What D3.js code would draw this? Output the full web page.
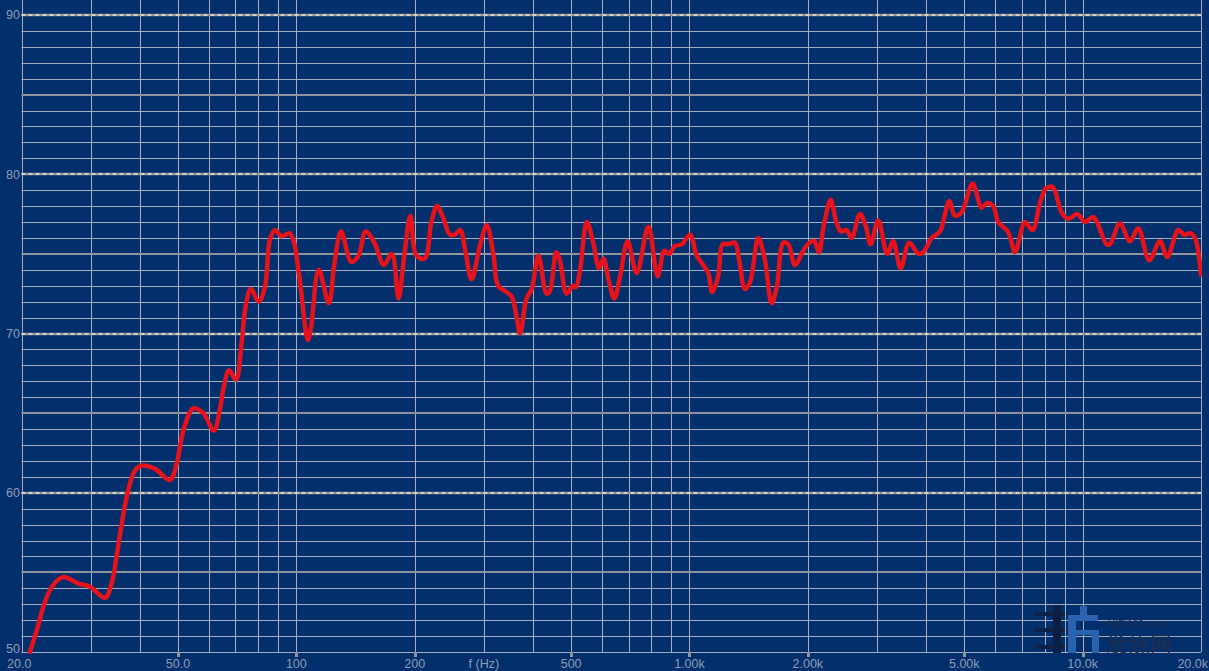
<!DOCTYPE html>
<html><head><meta charset="utf-8">
<script src="https://cdn.jsdelivr.net/npm/d3@7/dist/d3.min.js"></script>
<style>
html,body{margin:0;padding:0;background:#03306c;overflow:hidden;}
svg{display:block;}
text{font-family:"Liberation Sans",Arial,sans-serif;}
</style></head>
<body>
<svg id="chart" width="1209" height="671"></svg>
<script>
// Frequency response data
const freqHz = [21.0,21.9,22.7,23.9,25.5,27.9,29.9,32.6,33.9,34.9,
36.0,37.4,38.9,40.4,43.7,47.7,49.6,51.6,54.7,58.0,
61.7,63.9,65.2,67.5,70.2,72.6,74.1,76.6,80.2,83.2,
85.7,88.3,91.8,96.0,98.2,102,107,109,114,121,
125,130,138,144,150,158,167,175,182,188,
195,202,212,221,228,236,246,253,261,269,
279,293,305,317,326,343,353,363,371,385,
397,413,433,442,458,468,487,505,514,527,
548,569,589,604,625,644,666,696,734,786,
830,863,887,919,955,1003,1043,1084,1116,1143,
1183,1214,1255,1305,1338,1384,1425,1496,1556,1618,
1667,1732,1784,1854,1947,2017,2077,2135,2189,2286,
2358,2428,2510,2585,2714,2811,2889,3020,3184,3298,
3444,3622,3818,3931,4130,4335,4446,4578,4733,4922,
5250,5535,5720,5924,6100,6456,6727,6926,7132,7461,
7787,8064,8388,8843,9192,9690,10135,10640,11510,11730,
12440,13190,13850,14770,15730,16410,17510,18130,18750,19300,
20000];
const splDb = [50.0,51.4,52.8,54.1,54.7,54.3,54.1,53.4,54.3,56.0,
58.1,60.2,61.4,61.7,61.5,60.8,61.8,63.9,65.3,65.0,
63.9,65.2,66.5,67.7,67.1,69.4,71.5,72.8,72.0,72.9,
75.9,76.5,76.1,76.3,75.9,73.4,69.6,70.4,74.0,71.9,
74.4,76.4,74.5,74.9,76.4,75.7,74.3,75.0,72.2,74.8,
77.4,74.9,74.7,77.1,78.0,77.3,76.2,76.2,76.5,75.2,
73.4,75.5,76.8,75.0,73.0,72.6,72.3,71.1,70.0,72.2,
72.8,74.9,72.5,72.7,75.1,74.6,72.5,73.0,72.9,74.0,
77.0,75.7,74.1,74.7,73.2,72.2,73.6,75.8,73.8,76.7,
73.6,75.2,75.0,75.5,75.6,76.2,74.9,74.3,73.8,72.6,
73.6,75.6,75.6,75.7,74.6,72.8,73.2,76.0,74.6,71.9,
72.9,75.7,75.6,74.3,75.2,75.7,75.8,75.1,76.6,78.4,
77.1,76.4,76.5,76.0,77.5,76.7,75.6,77.1,75.0,75.8,
74.1,75.7,75.0,75.1,76.0,76.4,77.3,78.3,77.4,77.6,
79.4,77.9,78.2,78.0,77.0,76.4,75.1,76.1,77.0,76.5,
78.2,79.1,79.2,77.6,77.2,77.5,77.0,77.3,75.6,75.6,
76.9,75.8,76.6,74.6,75.8,74.8,76.5,76.2,76.3,76.0,
73.7];

const xTickValues = [20, 50, 100, 200, 500, 1000, 2000, 5000, 10000, 20000];
const xTickLabels = ["20.0", "50.0", "100", "200", "500", "1.00k", "2.00k", "5.00k", "10.0k", "20.0k"];
const yTickValues = [50, 60, 70, 80, 90];
const yTickLabels = ["50", "60", "70", "80", "90"];
const xAxisTitle = "f (Hz)";
const xTitleAt = 300;

const svg = d3.select("#chart");
const W = 1209, H = 671;
const mLeft = 21.5, mRight = 1201, mTop = 15, mBottom = 652;

const x = d3.scaleLog().domain([20, 20000]).range([mLeft, mRight]);
const y = d3.scaleLinear().domain([50, 90]).range([mBottom, mTop]);

svg.append("rect").attr("width", W).attr("height", H).attr("fill", "#03306c");

// vertical grid (1..9 per decade)
const vLines = [];
for (let d = 10; d <= 10000; d *= 10) {
  for (let m = 1; m <= 9; m++) {
    const f = d * m;
    if (f >= 20 && f <= 20000) vLines.push(f);
  }
}
vLines.push(20000);
const grid = svg.append("g");
grid.selectAll("line.v").data(vLines).join("line")
  .attr("x1", d => Math.round(x(d)) + 0.5).attr("x2", d => Math.round(x(d)) + 0.5)
  .attr("y1", 0).attr("y2", mBottom)
  .attr("stroke", "#a3adbd").attr("stroke-width", 1);

// horizontal grid every 1 dB
const hLines = d3.range(50, 91, 1);
grid.selectAll("line.h").data(hLines.filter(v => v % 5 !== 0)).join("line")
  .attr("x1", mLeft).attr("x2", mRight)
  .attr("y1", d => Math.round(y(d)) + 0.5).attr("y2", d => Math.round(y(d)) + 0.5)
  .attr("stroke", "#a3adbd").attr("stroke-width", 1);
// 5 dB lines thicker
grid.selectAll("line.h5").data(hLines.filter(v => v % 5 === 0 && v % 10 !== 0)).join("line")
  .attr("x1", mLeft).attr("x2", mRight)
  .attr("y1", d => Math.round(y(d))).attr("y2", d => Math.round(y(d)))
  .attr("stroke", "#8e939c").attr("stroke-width", 2);
// 10 dB lines dashed
const tens = hLines.filter(v => v % 10 === 0 && v > 50);
grid.selectAll("line.h10").data(tens).join("line")
  .attr("x1", mLeft).attr("x2", mRight)
  .attr("y1", d => Math.round(y(d))).attr("y2", d => Math.round(y(d)))
  .attr("stroke", "#8e939c").attr("stroke-width", 2.5);
grid.selectAll("line.h10d").data(tens).join("line")
  .attr("x1", mLeft).attr("x2", mRight)
  .attr("y1", d => Math.round(y(d))).attr("y2", d => Math.round(y(d)))
  .attr("stroke", "#efe8d2").attr("stroke-width", 1.5).attr("stroke-dasharray", "4,3");
// bottom line
grid.append("line").attr("x1", mLeft).attr("x2", mRight)
  .attr("y1", mBottom + 0.5).attr("y2", mBottom + 0.5)
  .attr("stroke", "#a3adbd").attr("stroke-width", 1);

// tick marks on bottom
svg.append("g").selectAll("rect").data(xTickValues.slice(1, -1)).join("rect")
  .attr("x", d => Math.round(x(d)) - 1).attr("y", mBottom)
  .attr("width", 3).attr("height", 5).attr("fill", "#8e939c");

// watermark (approximate)
const wm = svg.append("g");
[612, 628, 645].forEach(yy => wm.append("rect").attr("x", 1035).attr("y", yy).attr("width", 30).attr("height", 4).attr("fill", "#0f2148"));
wm.append("rect").attr("x", 1053).attr("y", 605).attr("width", 8).attr("height", 48).attr("fill", "#0c1e44");
wm.append("rect").attr("x", 1068).attr("y", 615).attr("width", 8).attr("height", 38).attr("fill", "#2a63b0");
wm.append("rect").attr("x", 1068).attr("y", 615).attr("width", 30).attr("height", 6).attr("fill", "#2a63b0");
wm.append("rect").attr("x", 1080).attr("y", 606).attr("width", 7).attr("height", 10).attr("fill", "#2a63b0");
wm.append("rect").attr("x", 1076).attr("y", 630).attr("width", 22).attr("height", 5).attr("fill", "#2a63b0");
wm.append("rect").attr("x", 1092).attr("y", 630).attr("width", 7).attr("height", 23).attr("fill", "#2a63b0");
wm.append("text").attr("x", 1108).attr("y", 628).attr("font-size", 10).attr("fill", "#1f2d4e").text("HIFI168.com");
wm.append("text").attr("x", 1106).attr("y", 652).attr("font-size", 22).attr("fill", "#1f2d4e")
  .attr("font-family", "Noto Sans CJK SC").text("发烧网");

// curve
const line = d3.line().x(d => x(d[0])).y(d => y(d[1])).curve(d3.curveCatmullRom.alpha(0.5));
const pts = freqHz.map((f, i) => [f, splDb[i]]);
svg.append("defs").append("clipPath").attr("id", "clip")
  .append("rect").attr("x", mLeft).attr("y", 0).attr("width", mRight - mLeft + 1).attr("height", mBottom + 2);
svg.append("path").datum(pts).attr("d", line)
  .attr("fill", "none").attr("stroke", "#e8121b").attr("stroke-width", 4.5)
  .attr("stroke-linejoin", "round").attr("stroke-linecap", "round")
  .attr("clip-path", "url(#clip)");

// labels
const lblColor = "#8d9cb6";
svg.append("g").selectAll("text").data(yTickValues).join("text")
  .attr("x", 20).attr("y", d => y(d)).attr("dy", d => d === 50 ? "0.1em" : "0.35em")
  .attr("text-anchor", "end").attr("font-size", 12.5).attr("fill", lblColor)
  .text((d, i) => yTickLabels[i]);
const lastI = xTickValues.length - 1;
svg.append("g").selectAll("text").data(xTickValues).join("text")
  .attr("x", (d, i) => i === 0 ? 7 : (i === lastI ? 1208 : x(d))).attr("y", 668)
  .attr("text-anchor", (d, i) => i === 0 ? "start" : (i === lastI ? "end" : "middle"))
  .attr("font-size", 12.5).attr("fill", lblColor)
  .text((d, i) => xTickLabels[i]);
svg.append("text").attr("x", x(xTitleAt)).attr("y", 668)
  .attr("text-anchor", "middle").attr("font-size", 12.5).attr("fill", lblColor).text(xAxisTitle);
</script>
</body></html>
